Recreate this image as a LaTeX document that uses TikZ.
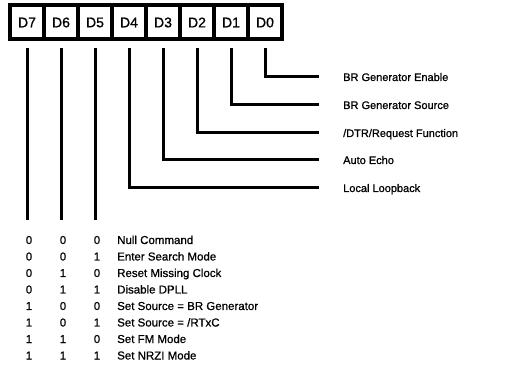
\documentclass[tikz,border=0pt]{standalone}
\usepackage{fontspec}
\setmainfont{Liberation Sans}
\newfontfamily\scanfont{Liberation Sans}[FakeBold=0.9]

\begin{document}
\begin{tikzpicture}[x=1pt,y=-1pt,
	bit/.style={draw, line width=4pt, minimum width=34pt, minimum height=34pt, inner sep=0pt, font=\scanfont\fontsize{14}{14}\selectfont},
	wire/.style={line width=3pt},
	lbl/.style={anchor=west, inner sep=0pt, text height=8pt, text depth=0pt, font=\scanfont\fontsize{11}{13}\selectfont},
	val/.style={inner sep=0pt, text height=8pt, text depth=0pt, font=\scanfont\fontsize{11.5}{13}\selectfont}]
	\useasboundingbox (0,0) rectangle (514,371);
	% the register, D7 ... D0
	\foreach \i in {0,...,7}
		\node[bit] (d\i) at ({265-34*\i},22.5) {D\i};
	% single bit functions
	\node[lbl] (f0) at (343,77) {BR Generator Enable};
	\node[lbl] (f1) at (343,105) {BR Generator Source};
	\node[lbl] (f2) at (343,133) {/DTR/Request Function};
	\node[lbl] (f3) at (343,160) {Auto Echo};
	\node[lbl] (f4) at (343,188) {Local Loopback};
	\foreach \i in {0,...,4}
		\draw[wire] ([yshift=-6.5pt]d\i.south) |- ([xshift=-24pt]f\i.west);
	% D7-D5 command field
	\foreach \i in {5,6,7} {
		\coordinate (e\i) at (d\i.south |- 0,220);
		\draw[wire] ([yshift=-6.5pt]d\i.south) -- (e\i);
	}
	% command table
	\foreach \a/\b/\c/\txt [count=\r] in {0/0/0/Null Command, 0/0/1/Enter Search Mode,
			0/1/0/Reset Missing Clock, 0/1/1/Disable DPLL, 1/0/0/Set Source = BR Generator,
			1/0/1/{Set Source = /RTxC}, 1/1/0/Set FM Mode, 1/1/1/Set NRZI Mode} {
		\node[val] (r\r-7) at (29,{240+16.5*(\r-1)}) {\a};
		\node[val] (r\r-6) at (63,{240+16.5*(\r-1)}) {\b};
		\node[val] (r\r-5) at (97,{240+16.5*(\r-1)}) {\c};
		\node[val, anchor=west] (r\r-t) at (117,{240+16.5*(\r-1)}) {\txt};
	}
\end{tikzpicture}
\end{document}
